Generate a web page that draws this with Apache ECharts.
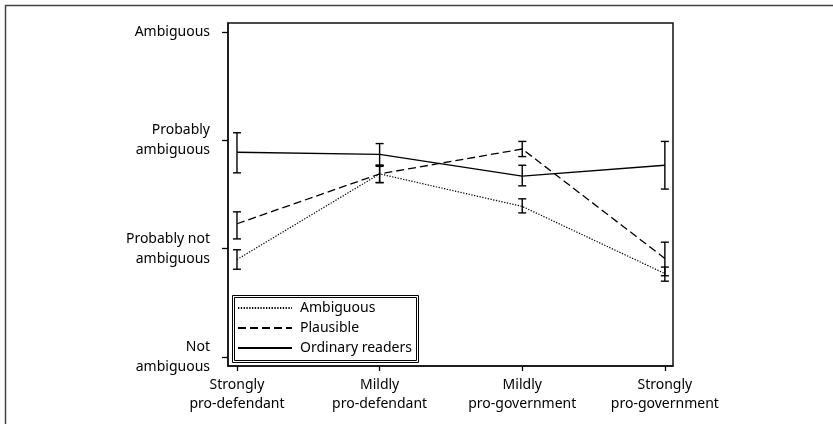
<!DOCTYPE html>
<html>
<head>
<meta charset="utf-8">
<script src="https://cdn.jsdelivr.net/npm/echarts@6/dist/echarts.min.js"></script>
<style>
html,body{margin:0;padding:0;background:#fff;}
#chart{width:833px;height:424px;}
</style>
</head>
<body>
<div id="chart"></div>
<script>
// ---- data ----
const categories = ['Strongly\npro-defendant', 'Mildly\npro-defendant', 'Mildly\npro-government', 'Strongly\npro-government'];
const yLevels = ['Not\nambiguous', 'Probably not\nambiguous', 'Probably\nambiguous', 'Ambiguous'];
const seriesNames = ['Ambiguous', 'Plausible', 'Ordinary readers'];

const ambiguousMean = [1.90, 2.69, 2.39, 1.77];
const ambiguousLow  = [1.81, 2.61, 2.33, 1.70];
const ambiguousHigh = [1.99, 2.77, 2.46, 1.83];

const plausibleMean = [2.23, 2.69, 2.92, 1.91];
const plausibleLow  = [2.09, 2.61, 2.85, 1.75];
const plausibleHigh = [2.34, 2.77, 2.99, 2.06];

const ordinaryMean = [2.89, 2.87, 2.67, 2.77];
const ordinaryLow  = [2.70, 2.76, 2.58, 2.55];
const ordinaryHigh = [3.07, 2.97, 2.77, 2.99];

// ---- build ----
const FONT = '"Noto Sans", "Open Sans", sans-serif';
const INK = '#000';

function lineData(means) { return means.map((v, i) => [i + 1, v]); }
function errData(lo, hi) { return lo.map((v, i) => [i + 1, v, hi[i]]); }

function errRender(params, api) {
  const x = api.value(0);
  const lo = api.coord([x, api.value(1)]);
  const hi = api.coord([x, api.value(2)]);
  const w = 4;
  const st = { stroke: INK, lineWidth: 1.4, fill: null };
  return {
    type: 'group',
    children: [
      { type: 'line', shape: { x1: hi[0], y1: hi[1], x2: lo[0], y2: lo[1] }, style: st },
      { type: 'line', shape: { x1: hi[0] - w, y1: hi[1], x2: hi[0] + w, y2: hi[1] }, style: st },
      { type: 'line', shape: { x1: lo[0] - w, y1: lo[1], x2: lo[0] + w, y2: lo[1] }, style: st }
    ]
  };
}

const styles = [
  { width: 1.2, type: [1.3, 1.5] },
  { width: 1.3, type: [8, 4] },
  { width: 1.4, type: 'solid' }
];
const means = [ambiguousMean, plausibleMean, ordinaryMean];
const lows = [ambiguousLow, plausibleLow, ordinaryLow];
const highs = [ambiguousHigh, plausibleHigh, ordinaryHigh];

const series = [];
seriesNames.forEach((name, k) => {
  series.push({
    name: name,
    type: 'line',
    data: lineData(means[k]),
    symbol: 'none',
    showSymbol: false,
    color: INK,
    lineStyle: { color: INK, width: styles[k].width, type: styles[k].type },
    z: 3,
    animation: false
  });
});
seriesNames.forEach((name, k) => {
  series.push({
    name: name + ' CI',
    type: 'custom',
    data: errData(lows[k], highs[k]),
    renderItem: errRender,
    encode: { x: 0, y: [1, 2] },
    z: 4,
    animation: false
  });
});

const chart = echarts.init(document.getElementById('chart'));
chart.setOption({
  animation: false,
  backgroundColor: '#fff',
  grid: {
    left: 228, right: 160, top: 23, bottom: 58,
    show: true, borderColor: '#111', borderWidth: 1.5, backgroundColor: 'transparent'
  },
  xAxis: {
    type: 'value',
    min: 0.937, max: 4.057,
    splitLine: { show: false },
    axisLine: { show: true, onZero: false, lineStyle: { color: '#111', width: 1.5 } },
    axisTick: { show: true, customValues: [1, 2, 3, 4], length: 5, lineStyle: { color: INK, width: 1.3 } },
    axisLabel: {
      customValues: [1, 2, 3, 4],
      formatter: v => categories[Math.round(v) - 1] || '',
      fontFamily: FONT, fontSize: 14, color: INK, lineHeight: 19, margin: 10
    }
  },
  yAxis: {
    type: 'value',
    min: 0.917, max: 4.083,
    splitLine: { show: false },
    axisLine: { show: true, onZero: false, lineStyle: { color: '#111', width: 1.5 } },
    axisTick: { show: true, customValues: [1, 2, 3, 4], length: 6, lineStyle: { color: INK, width: 1.3 } },
    axisLabel: {
      customValues: [1, 2, 3, 4],
      formatter: v => yLevels[Math.round(v) - 1] || '',
      fontFamily: FONT, fontSize: 14, color: INK, lineHeight: 20, margin: 18, align: 'right'
    }
  },
  legend: {
    data: seriesNames,
    orient: 'vertical',
    left: 237, top: 301,
    padding: 0,
    itemWidth: 54, itemHeight: 14, itemGap: 6,
    itemStyle: { opacity: 0 },
    textStyle: { fontFamily: FONT, fontSize: 14, color: INK, padding: [0, 0, 0, 3] },
    selectedMode: false
  },
  graphic: [
    { type: 'polyline', silent: true, shape: { points: [[5.5, 424], [5.5, 5.5], [833, 5.5]] }, style: { stroke: '#444', lineWidth: 1.5, fill: null } },
    { type: 'rect', silent: true, shape: { x: 232.5, y: 295.5, width: 186, height: 67 }, style: { stroke: INK, lineWidth: 1, fill: null }, z: 10 },
    { type: 'rect', silent: true, shape: { x: 234.5, y: 297.5, width: 182, height: 63 }, style: { stroke: INK, lineWidth: 1, fill: null }, z: 10 }
  ],
  series: series
});
</script>
</body>
</html>
